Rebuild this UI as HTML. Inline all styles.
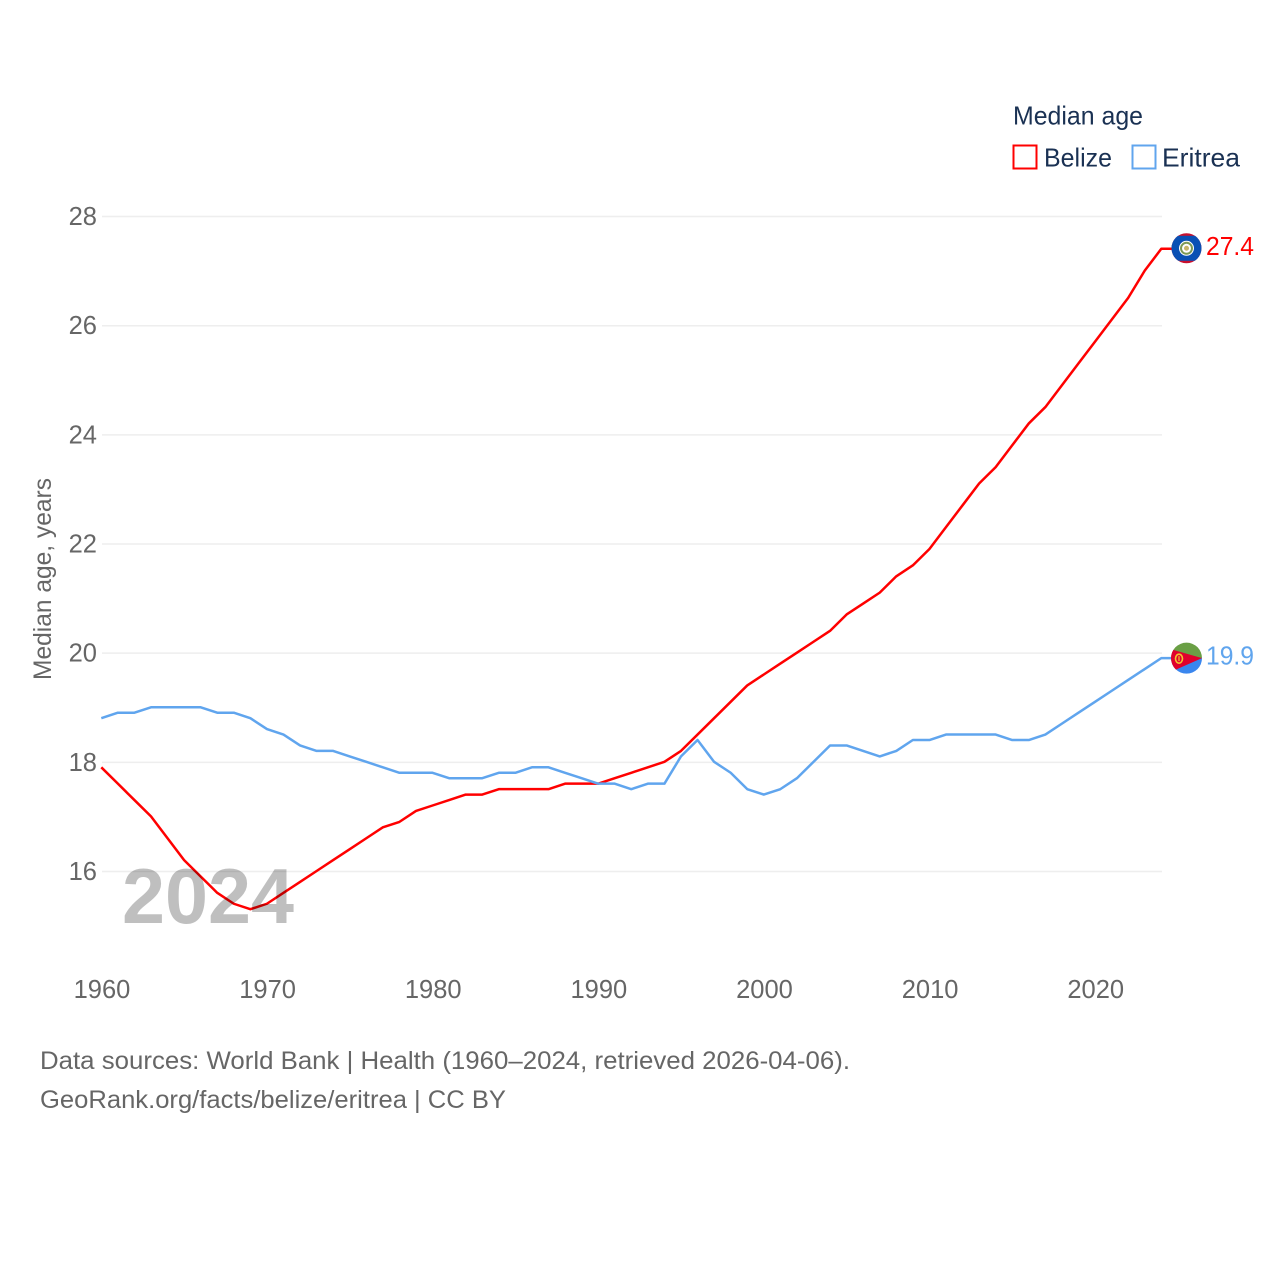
<!DOCTYPE html>
<html>
<head>
<meta charset="utf-8">
<title>Median age: Belize and Eritrea</title>
<style>
html,body{margin:0;padding:0;background:#fff;}
svg{display:block;font-family:"Liberation Sans",sans-serif;}
</style>
</head>
<body>
<svg id="chart" width="1280" height="1280" viewBox="0 0 1280 1280" xmlns="http://www.w3.org/2000/svg">
  <defs>
    <clipPath id="flagClip"><circle cx="0" cy="0" r="15"/></clipPath>
    <clipPath id="flagClipLarge"><circle cx="0" cy="0" r="15.5"/></clipPath>
  </defs>
  <rect width="1280" height="1280" fill="#fff"/>
  <g id="grid"></g>
  <g id="yticks"></g>
  <g id="xticks"></g>
  <text transform="translate(51 680) rotate(-90)" font-size="25" fill="#666" textLength="202" lengthAdjust="spacingAndGlyphs">Median age, years</text>
  <g id="series" transform="translate(-0.7 -0.5)"></g>
  <text x="122" y="923" font-size="78" font-weight="700" fill="#000" fill-opacity="0.25" textLength="172" lengthAdjust="spacingAndGlyphs">2024</text>
  <g id="ends"></g>
  <g>
    <text x="1013" y="124.500" font-size="26" fill="#1a3153" textLength="130" lengthAdjust="spacingAndGlyphs">Median age</text>
    <g>
      <rect x="1013.500" y="145.500" width="23" height="23" fill="#fff" stroke="#ff0000" stroke-width="2"/>
      <text x="1044" y="166.500" font-size="26" fill="#1a3153" textLength="68" lengthAdjust="spacingAndGlyphs">Belize</text>
    </g>
    <g>
      <rect x="1132.500" y="145.500" width="23" height="23" fill="#fff" stroke="#60a5ee" stroke-width="2"/>
      <text x="1162" y="166.500" font-size="26" fill="#1a3153" textLength="78" lengthAdjust="spacingAndGlyphs">Eritrea</text>
    </g>
  </g>
  <text x="40" y="1069" font-size="25" fill="#666" textLength="810" lengthAdjust="spacingAndGlyphs">Data sources: World Bank | Health (1960–2024, retrieved 2026-04-06).</text>
  <text x="40" y="1108" font-size="25" fill="#666" textLength="466" lengthAdjust="spacingAndGlyphs">GeoRank.org/facts/belize/eritrea | CC BY</text>
</svg>
<script>
const startYear = 1960;
const xTickLabels = [1960, 1970, 1980, 1990, 2000, 2010, 2020];
const yTickLabels = [16, 18, 20, 22, 24, 26, 28];
const belizeValues = [17.9,17.6,17.3,17.0,16.6,16.2,15.9,15.6,15.4,15.3,15.4,15.6,15.8,16.0,16.2,16.4,16.6,16.8,16.9,17.1,17.2,17.3,17.4,17.4,17.5,17.5,17.5,17.5,17.6,17.6,17.6,17.7,17.8,17.9,18.0,18.2,18.5,18.8,19.1,19.4,19.6,19.8,20.0,20.2,20.4,20.7,20.9,21.1,21.4,21.6,21.9,22.3,22.7,23.1,23.4,23.8,24.2,24.5,24.9,25.3,25.7,26.1,26.5,27.0,27.4];
const eritreaValues = [18.8,18.9,18.9,19.0,19.0,19.0,19.0,18.9,18.9,18.8,18.6,18.5,18.3,18.2,18.2,18.1,18.0,17.9,17.8,17.8,17.8,17.7,17.7,17.7,17.8,17.8,17.9,17.9,17.8,17.7,17.6,17.6,17.5,17.6,17.6,18.1,18.4,18.0,17.8,17.5,17.4,17.5,17.7,18.0,18.3,18.3,18.2,18.1,18.2,18.4,18.4,18.5,18.5,18.5,18.5,18.4,18.4,18.5,18.7,18.9,19.1,19.3,19.5,19.7,19.9];

const NS = 'http://www.w3.org/2000/svg';
const x = year => 102 + (year - startYear) * 16.5625;
const y = value => 871.5 - (value - 16) * 54.58;

function make(parent, tag, props, text) {
  const el = document.createElementNS(NS, tag);
  for (const k in props) el.setAttribute(k, props[k]);
  if (text !== undefined) el.textContent = text;
  parent.appendChild(el);
  return el;
}

const grid = document.getElementById('grid');
const yticks = document.getElementById('yticks');
yTickLabels.forEach(v => {
  const line = make(grid, 'line', {x1: 102, x2: 1162, y1: y(v), y2: y(v), stroke: '#eeeeee', 'stroke-width': 1.5});
  
  
  const label = make(yticks, 'text', {x: 97, y: y(v) + 8.5, 'text-anchor': 'end', 'font-size': 25.5, fill: '#666'}, String(v));
  
  
});

const xticks = document.getElementById('xticks');
xTickLabels.forEach(v => {
  const label = make(xticks, 'text', {x: x(v), y: 998, 'text-anchor': 'middle', 'font-size': 25.5, fill: '#666'}, String(v));
  
  
});

const series = document.getElementById('series');
const ends = document.getElementById('ends');

function drawLine(values, color) {
  const pts = values.map((v, i) => x(startYear + i).toFixed(2) + ',' + y(v).toFixed(2));
  const lastY = y(values[values.length - 1]);
  pts.push('1173,' + lastY.toFixed(2));
  return make(series, 'polyline', {points: pts.join(' '), fill: 'none', stroke: color, 'stroke-width': 2.5, 'stroke-linejoin': 'round'});
}

const belizeLine = drawLine(belizeValues, '#ff0000');


const eritreaLine = drawLine(eritreaValues, '#60a5ee');



/* Belize end marker */
const by = y(belizeValues[belizeValues.length - 1]) - 1;
const bFlag = make(ends, 'g', {transform: 'translate(1186.5 ' + by + ')', 'clip-path': 'url(#flagClip)'});


make(bFlag, 'rect', {x: -16, y: -16, width: 32, height: 32, fill: '#c8102e'});
make(bFlag, 'rect', {x: -16, y: -12.5, width: 32, height: 25, fill: '#0a50b4'});
make(bFlag, 'circle', {r: 7.5, fill: '#fff'});
make(bFlag, 'circle', {r: 5.5, fill: 'none', stroke: '#7d9a55', 'stroke-width': 2});
make(bFlag, 'circle', {r: 2.5, fill: '#c9b56a'});
const bVal = make(ends, 'text', {x: 1206, y: by + 6.5, 'font-size': 25.5, fill: '#ff0000', textLength: 48, lengthAdjust: 'spacingAndGlyphs'}, belizeValues[belizeValues.length - 1].toFixed(1));



/* Eritrea end marker */
const ey = y(eritreaValues[eritreaValues.length - 1]) - 0.5;
const eFlag = make(ends, 'g', {transform: 'translate(1186.5 ' + ey + ')', 'clip-path': 'url(#flagClipLarge)'});


make(eFlag, 'rect', {x: -16, y: -16, width: 32, height: 16, fill: '#6a9f45'});
make(eFlag, 'rect', {x: -16, y: 0, width: 32, height: 16, fill: '#3a86ee'});
make(eFlag, 'path', {d: 'M15.500 0L-30 -13L-30 20Z', fill: '#e0002d'});
make(eFlag, 'ellipse', {cx: -7.500, cy: 0.5, rx: 3.500, ry: 4.5, fill: 'none', stroke: '#f2c230', 'stroke-width': 1.6});
make(eFlag, 'line', {x1: -7.500, x2: -7.500, y1: -2, y2: 3, stroke: '#f2c230', 'stroke-width': 1.2});
const eVal = make(ends, 'text', {x: 1206, y: ey + 6.5, 'font-size': 25.5, fill: '#60a5ee', textLength: 48, lengthAdjust: 'spacingAndGlyphs'}, eritreaValues[eritreaValues.length - 1].toFixed(1));


</script>
</body>
</html>
